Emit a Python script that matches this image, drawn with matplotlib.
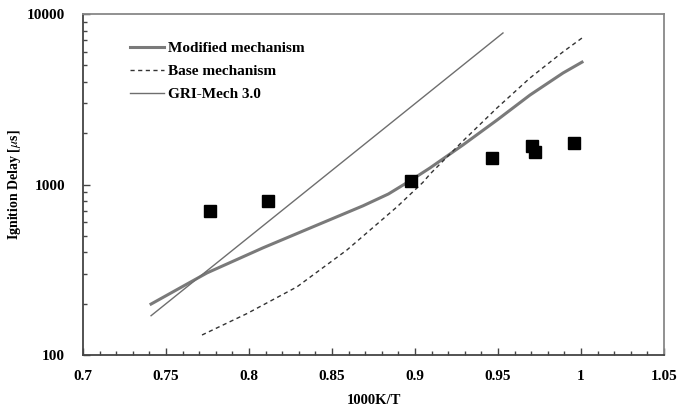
import numpy as np
import matplotlib
matplotlib.use('Agg')
import matplotlib.pyplot as plt
from matplotlib.ticker import MultipleLocator, LogLocator, FixedLocator, NullFormatter

plt.rcParams['font.family'] = 'Liberation Serif'
plt.rcParams['mathtext.fontset'] = 'stix'

# experimental points
exp_x = [0.7765, 0.8114, 0.8976, 0.9464, 0.9705, 0.9723, 0.9958]
exp_y = [700, 800, 1048, 1429, 1683, 1553, 1749]

# modified mechanism
mod_x = [0.741, 0.7747, 0.8084, 0.8386, 0.8687, 0.884, 0.8976, 0.909, 0.9289, 0.9494, 0.9693, 0.9892, 1.0006]
mod_y = [199, 303, 425, 565, 750, 880, 1060, 1250, 1706, 2387, 3349, 4510, 5220]

# base mechanism
base_x = [0.7717, 0.7988, 0.8289, 0.8590, 0.8892, 0.9048, 0.909, 0.9289, 0.9494, 0.9693, 0.9892, 1.0006]
base_y = [131, 175, 251, 413, 740, 1030, 1150, 1800, 2812, 4217, 6000, 7230]

# GRI-Mech 3.0
gri_x = [0.741, 0.953]
gri_y = [170, 7740]

fig = plt.figure(figsize=(6.77, 4.12), dpi=100)
ax = fig.add_axes([83/677, 1-355/412, (664-83)/677, (355-14)/412])

ax.plot(mod_x, mod_y, color='#7a7a7a', lw=2.2, label='Modified mechanism', zorder=3)
ax.plot(base_x, base_y, color='#333333', lw=1.0, ls=(0, (3, 2.5)), label='Base mechanism', zorder=3)
ax.plot(gri_x, gri_y, color='#6e6e6e', lw=1.0, label='GRI-Mech 3.0', zorder=3)
ax.plot(exp_x, exp_y, 's', color='black', ms=8, zorder=4)

ax.set_yscale('log')
ax.set_xlim(0.7, 1.05)
ax.set_ylim(100, 10000)

ax.xaxis.set_minor_locator(MultipleLocator(0.01))
ax.set_xticks([0.7, 0.75, 0.8, 0.85, 0.9, 0.95, 1.0, 1.05])
ax.set_xticklabels(['0.7', '0.75', '0.8', '0.85', '0.9', '0.95', '1', '1.05'])
ax.yaxis.set_major_locator(FixedLocator([100, 1000, 10000]))
ax.yaxis.set_minor_locator(LogLocator(base=10, subs=np.arange(2, 10)))
ax.yaxis.set_minor_formatter(NullFormatter())
ax.set_yticklabels(['100', '1000', '10000'])

ax.tick_params(axis='x', which='major', pad=11)
ax.tick_params(axis='y', which='major', pad=13)
ax.tick_params(axis='both', which='major', direction='in', length=5, width=1,
               color='#444444', labelsize=11)
ax.tick_params(axis='both', which='minor', direction='in', length=3, width=1,
               color='#444444')
ax.tick_params(top=False, right=False, which='both')
for lab in ax.get_xticklabels() + ax.get_yticklabels():
    lab.set_fontweight('bold')
for s in ['left', 'bottom']:
    ax.spines[s].set_color('#444444')
    ax.spines[s].set_linewidth(1.3)
for s in ['top', 'right']:
    ax.spines[s].set_color('#888888')
    ax.spines[s].set_linewidth(1.3)

ax.set_xlabel('1000K/T', fontsize=10.5, fontweight='bold')
ax.xaxis.set_label_coords(0.5, -0.115)
ax.set_ylabel(r'Ignition Delay [$\mu$s]', fontsize=10, fontweight='bold')
ax.yaxis.set_label_coords(-0.104, 0.5)

leg = ax.legend(loc='upper left', bbox_to_anchor=(0.058, 0.96), frameon=False,
                prop={'size': 11, 'weight': 'bold'}, handlelength=2.2,
                handletextpad=0.25, labelspacing=0.62)

fig.savefig('out.png', dpi=100)
